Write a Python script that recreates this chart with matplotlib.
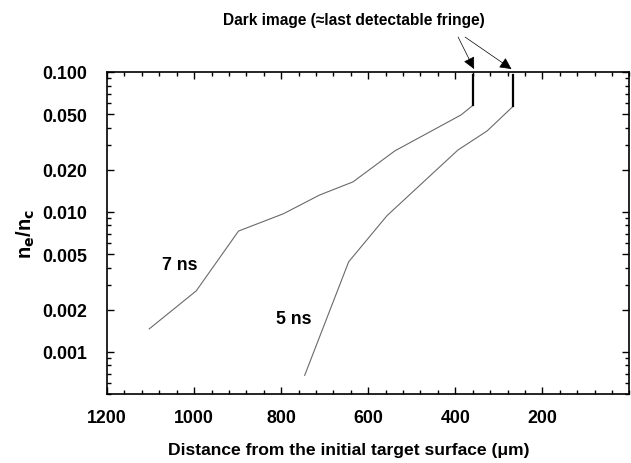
import matplotlib
matplotlib.use("Agg")
from matplotlib import pyplot as plt
from matplotlib.ticker import FixedLocator, MultipleLocator, LogLocator, NullFormatter

plt.rcParams['font.family'] = ['Liberation Sans', 'DejaVu Sans']
plt.rcParams['font.weight'] = 'bold'

# Density profiles (distance in um, ne/nc)
dist_7ns = [1103, 995, 898, 795, 712, 635, 539, 387, 359]
dens_7ns = [0.00146, 0.00273, 0.0073, 0.0097, 0.0132, 0.0164, 0.0273, 0.0493, 0.058]
dist_5ns = [746, 645, 557, 394, 327, 267]
dens_5ns = [0.00068, 0.0044, 0.0094, 0.0277, 0.0379, 0.057]

# Last detectable fringe position for each delay
fringe_dist = [359, 267]
fringe_top = 0.095

xticks = [1200, 1000, 800, 600, 400, 200]
yticks = [0.001, 0.002, 0.005, 0.010, 0.020, 0.050, 0.100]
ytick_labels = ['0.001', '0.002', '0.005', '0.010', '0.020', '0.050', '0.100']

fig = plt.figure(figsize=(6.31, 4.64), dpi=100)
ax = fig.add_axes([0.1696, 0.1487, 0.828, 0.694])

ax.plot(dist_7ns, dens_7ns, color='#6a6a6a', lw=0.8)
ax.plot(dist_5ns, dens_5ns, color='#6a6a6a', lw=0.8)
for xd, yd in zip(fringe_dist, [dens_7ns[-1], dens_5ns[-1]]):
    ax.plot([xd, xd], [yd, fringe_top], color='black', lw=1.6)

ax.set_yscale('log')
ax.set_xlim(1200, 0)
ax.set_ylim(0.0005, 0.1)

ax.xaxis.set_major_locator(FixedLocator(xticks))
ax.set_xticklabels([str(t) for t in xticks])
ax.xaxis.set_minor_locator(MultipleLocator(40))
ax.yaxis.set_major_locator(FixedLocator(yticks))
ax.set_yticklabels(ytick_labels)
ax.yaxis.set_minor_locator(LogLocator(base=10, subs=range(2, 10)))
ax.yaxis.set_minor_formatter(NullFormatter())

ax.tick_params(which='both', direction='in', top=True, right=True, width=1.0)
ax.tick_params(which='major', length=5, labelsize=12.8)
ax.tick_params(which='minor', length=3)
ax.tick_params(axis='x', which='major', pad=11)
ax.tick_params(axis='y', which='major', pad=14)
for lab in ax.get_xticklabels() + ax.get_yticklabels():
    lab.set_fontweight('bold')
for sp in ax.spines.values():
    sp.set_linewidth(1.2)

ax.set_xlabel('Distance from the initial target surface (\u03bcm)', fontsize=12.6,
              fontweight='bold')
ax.xaxis.set_label_coords(0.463, -0.171)
ax.xaxis.label.set_va('center')
ax.set_ylabel(r'n$_\mathbf{e}$/n$_\mathbf{c}$', fontsize=14.5, fontweight='bold', labelpad=4)

ax.text(1032, 0.0042, '7 ns', fontsize=12.8, fontweight='bold', ha='center', va='center')
ax.text(771, 0.00172, '5 ns', fontsize=12.8, fontweight='bold', ha='center', va='center')

fig.text(0.561, 0.955, 'Dark image (\u2248last detectable fringe)', fontsize=11.2,
         fontweight='bold', ha='center', va='center')
arrow_style = dict(arrowstyle='-|>', color='black', lw=0.5, mutation_scale=18,
                   shrinkA=0, shrinkB=0)
ax.annotate('', xy=(fringe_dist[0] - 2, 0.105), xycoords='data',
            xytext=(0.726, 0.918), textcoords='figure fraction',
            arrowprops=arrow_style, annotation_clip=False)
ax.annotate('', xy=(fringe_dist[1] + 4, 0.105), xycoords='data',
            xytext=(0.737, 0.918), textcoords='figure fraction',
            arrowprops=arrow_style, annotation_clip=False)

fig.savefig('out.png', dpi=100)
